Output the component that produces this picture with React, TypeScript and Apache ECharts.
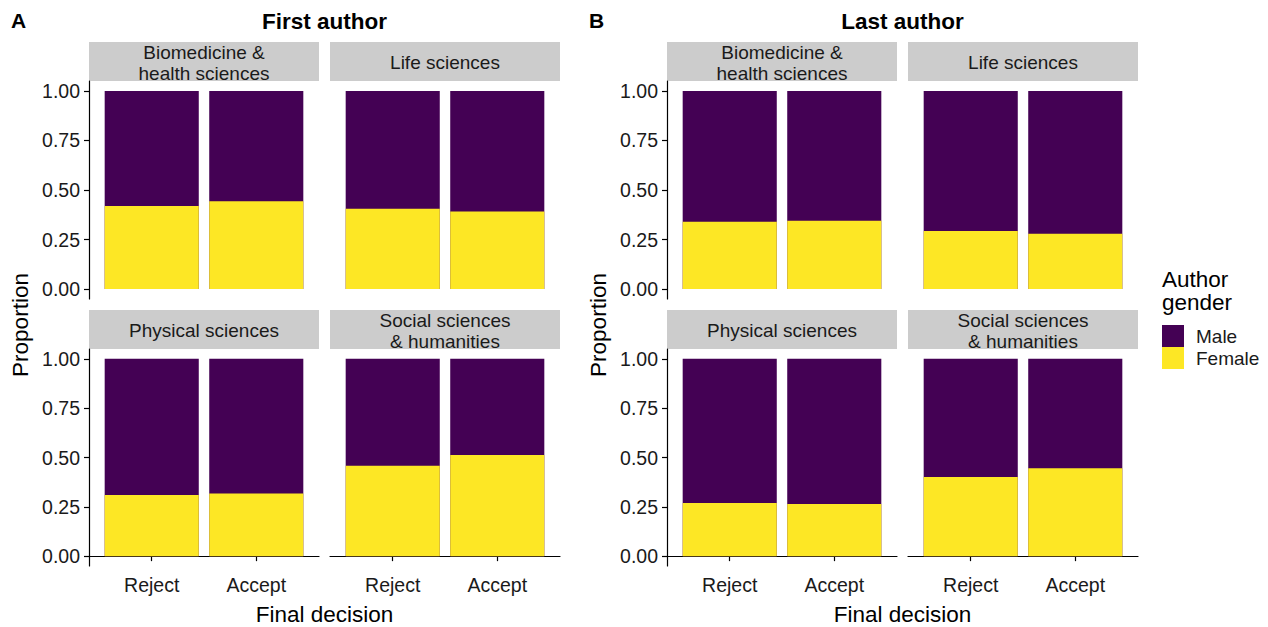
import React, { useEffect, useRef } from "react";
import * as echarts from "echarts";

const categories = ["Reject", "Accept"];
const facetNames = [
  "Biomedicine &\nhealth sciences",
  "Life sciences",
  "Physical sciences",
  "Social sciences\n& humanities",
];
const yTicks = [0, 0.25, 0.5, 0.75, 1];
const genders = ["Male", "Female"];

// proportions per facet: [Reject, Accept]
const firstFemale = [
  [0.419, 0.443],
  [0.406, 0.392],
  [0.31, 0.318],
  [0.458, 0.513],
];
const firstMale = [
  [0.581, 0.557],
  [0.594, 0.608],
  [0.69, 0.682],
  [0.542, 0.487],
];
const lastFemale = [
  [0.34, 0.345],
  [0.293, 0.279],
  [0.269, 0.264],
  [0.401, 0.445],
];
const lastMale = [
  [0.66, 0.655],
  [0.707, 0.721],
  [0.731, 0.736],
  [0.599, 0.555],
];

const FONT = "Liberation Sans, Arial, Helvetica, sans-serif";
const MALE_COLOR = "#440154";
const FEMALE_COLOR = "#FDE725";
const TEXT = "#1a1a1a";

export default function App() {
  const ref = useRef<HTMLDivElement>(null);

  useEffect(() => {
    if (!ref.current) return;
    const chart = echarts.init(ref.current, null, { renderer: "svg" });

    const facetW = 230;
    const rows = [
      { stripTop: 42, top: 81, height: 218 },
      { stripTop: 310, top: 349, height: 217 },
    ];
    const panels = [
      { label: "A", labelX: 11, title: "First author", female: firstFemale, male: firstMale, cols: [89, 330], yTitleX: 20 },
      { label: "B", labelX: 589, title: "Last author", female: lastFemale, male: lastMale, cols: [667, 908], yTitleX: 598 },
    ];
    const xMin = 0.4;
    const xMax = 2.6;
    const barWidth = (0.9 / (xMax - xMin)) * facetW;

    const grids: any[] = [];
    const xAxes: any[] = [];
    const yAxes: any[] = [];
    const series: any[] = [];
    const graphics: any[] = [];

    let idx = 0;
    panels.forEach((p) => {
      const panelLeft = p.cols[0];
      const panelRight = p.cols[1] + facetW;
      const panelCenter = (panelLeft + panelRight) / 2;
      graphics.push({
        type: "text",
        x: p.labelX,
        y: 20,
        style: { text: p.label, font: `bold 21px ${FONT}`, fill: "#000", textVerticalAlign: "middle" },
      });
      graphics.push({
        type: "text",
        x: panelCenter,
        y: 21,
        style: { text: p.title, font: `bold 22.5px ${FONT}`, fill: "#000", textAlign: "center", textVerticalAlign: "middle" },
      });
      graphics.push({
        type: "text",
        x: p.yTitleX,
        y: 325,
        rotation: Math.PI / 2,
        style: { text: "Proportion", font: `22.5px ${FONT}`, fill: "#000", textAlign: "center", textVerticalAlign: "middle" },
      });
      graphics.push({
        type: "text",
        x: panelCenter,
        y: 614,
        style: { text: "Final decision", font: `22.5px ${FONT}`, fill: "#000", textAlign: "center", textVerticalAlign: "middle" },
      });

      facetNames.forEach((name, k) => {
        const row = Math.floor(k / 2);
        const col = k % 2;
        const r = rows[row];
        const left = p.cols[col];
        grids.push({ left, top: r.top, width: facetW, height: r.height, outerBoundsMode: "none" });
        graphics.push({
          type: "rect",
          shape: { x: left, y: r.stripTop, width: facetW, height: r.top - r.stripTop },
          style: { fill: "#CCCCCC" },
        });
        graphics.push({
          type: "text",
          x: left + facetW / 2,
          y: (r.stripTop + r.top) / 2 + 1,
          style: {
            text: name,
            font: `19px ${FONT}`,
            lineHeight: 21,
            fill: TEXT,
            textAlign: "center",
            textVerticalAlign: "middle",
          },
        });
        xAxes.push({
          gridIndex: idx,
          type: "value",
          min: xMin,
          max: xMax,
          show: row === 1,
          axisLine: { show: true, lineStyle: { color: "#000", width: 1.2 } },
          axisTick: { show: true, customValues: [1, 2], length: 5, lineStyle: { color: "#000", width: 1.2 } },
          axisLabel: {
            customValues: [1, 2],
            formatter: (v: number) => categories[Math.round(v) - 1] ?? "",
            margin: 9,
            fontSize: 19.5,
            fontFamily: FONT,
            color: TEXT,
          },
          splitLine: { show: false },
        });
        yAxes.push({
          gridIndex: idx,
          type: "value",
          min: -0.05,
          max: 1.05,
          show: col === 0,
          axisLine: { show: true, lineStyle: { color: "#000", width: 1.2 } },
          axisTick: { show: true, customValues: yTicks, length: 5, lineStyle: { color: "#000", width: 1.2 } },
          axisLabel: {
            customValues: yTicks,
            formatter: (v: number) => v.toFixed(2),
            margin: 9,
            fontSize: 19.5,
            fontFamily: FONT,
            color: TEXT,
          },
          splitLine: { show: false },
        });
        // Male segment sits on top of the Female segment: its top is female + male
        series.push({
          type: "bar",
          name: "Male",
          xAxisIndex: idx,
          yAxisIndex: idx,
          barWidth,
          barGap: "-100%",
          z: 2,
          data: p.male[k].map((v, i) => [i + 1, p.female[k][i] + v]),
          itemStyle: { color: MALE_COLOR },
        });
        series.push({
          type: "bar",
          name: "Female",
          xAxisIndex: idx,
          yAxisIndex: idx,
          barWidth,
          barGap: "-100%",
          z: 3,
          data: p.female[k].map((v, i) => [i + 1, v]),
          itemStyle: { color: FEMALE_COLOR },
        });
        idx++;
      });
    });

    graphics.push({
      type: "text",
      x: 1162,
      y: 268,
      style: { text: "Author\ngender", font: `22.5px ${FONT}`, lineHeight: 23, fill: "#000", textVerticalAlign: "top" },
    });

    chart.setOption({
      animation: false,
      backgroundColor: "#fff",
      grid: grids,
      xAxis: xAxes,
      yAxis: yAxes,
      series,
      legend: {
        data: genders,
        orient: "vertical",
        left: 1162,
        top: 325,
        itemWidth: 22,
        itemHeight: 22,
        itemGap: 0,
        icon: "rect",
        selectedMode: false,
        padding: 0,
        textStyle: { fontSize: 19, fontFamily: FONT, color: TEXT, padding: [0, 0, 0, 7] },
      },
      graphic: graphics,
    });

    return () => chart.dispose();
  }, []);

  return (
    <div
      ref={ref}
      style={{ position: "fixed", left: 0, top: 0, width: 1268, height: 627, background: "#fff" }}
    />
  );
}
